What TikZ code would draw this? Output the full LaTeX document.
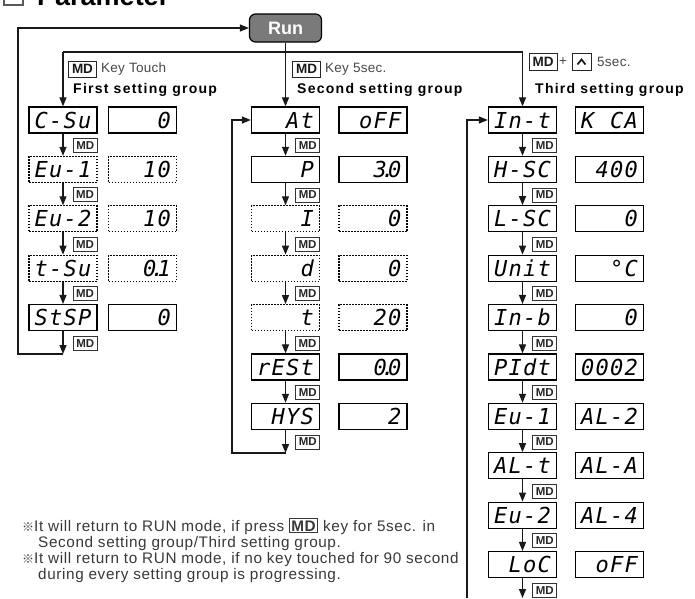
\documentclass[tikz,border=0pt]{standalone}
\usepackage{fontspec}
\setmainfont{Liberation Sans}
\newfontfamily\segf{DejaVu Sans Mono}
\newfontfamily\cjkf{Noto Sans CJK KR}
\usetikzlibrary{arrows.meta}
\newcommand\sg[4]{\makebox[14.5pt]{#1}\makebox[14.5pt]{#2}\makebox[14.5pt]{#3}\makebox[14.5pt]{#4}}
\newcommand\dtt{\makebox[0pt]{.}}
\tikzset{
  disp/.style={draw=black, line width=1.3pt, fill=white, minimum width=68pt, minimum height=26pt,
    inner sep=0pt, text height=16pt, text depth=0pt, font=\segf\itshape\fontsize{22}{22}\selectfont},
  dotd/.style={disp, line width=1.1pt, dash pattern=on 1.6pt off 1.4pt},
  mdk/.style={draw=black!80, line width=0.9pt, fill=white, minimum width=24pt, minimum height=14pt,
    inner sep=0pt, font=\bfseries\fontsize{11.5}{11.5}\selectfont, text=black!85},
  mdh/.style={draw=black!85, line width=1pt, minimum width=28pt, minimum height=16pt,
    inner sep=0pt, font=\bfseries\fontsize{13.5}{13.5}\selectfont, text=black!90},
  arr/.style={line width=1.2pt, draw=black!90, -{Triangle[length=9pt,width=7pt]}},
  ln/.style={line width=1.2pt, draw=black!90},
  runbox/.style={draw=black, line width=1.2pt, rounded corners=6pt, fill=black!52, minimum width=72pt,
    minimum height=28pt, inner sep=0pt, text=white, font=\bfseries\fontsize{18}{18}\selectfont},
  grp/.style={inner sep=0pt, anchor=west, font=\bfseries\fontsize{14}{14}\selectfont\addfontfeature{LetterSpace=9}},
  keyt/.style={inner sep=0pt, anchor=west, text=black!72, font=\fontsize{13.5}{13.5}\selectfont\addfontfeature{LetterSpace=2}},
  note/.style={inner sep=0pt, anchor=base west, text=black!78, font=\fontsize{15.3}{15.3}\selectfont\addfontfeature{LetterSpace=4}},
}
\begin{document}
\begin{tikzpicture}[x=1pt,y=-1pt]
\useasboundingbox (0,0) rectangle (695,598);
% title
\draw[line width=1.5pt, black!65] (4,5) rectangle (23,-14);
\node[inner sep=0pt, anchor=base west, font=\bfseries\fontsize{27}{27}\selectfont] (ttl) at (37,5) {Parameter};
% run
\node[runbox] (run) at (285.5,28) {Run};
% group 1
\node[disp] (a1) at (63,120) {\sg{C}{-}{S}{u}};
\node[dotd] (a2) at (63,169.4) {\sg{E}{u}{-}{1}};
\node[dotd] (a3) at (63,218.8) {\sg{E}{u}{-}{2}};
\node[dotd] (a4) at (63,268.2) {\sg{t}{-}{S}{u}};
\node[disp] (a5) at (63,317.6) {\sg{S}{t}{S}{P}};
\node[disp] (av1) at (142.5,120) {\sg{}{}{}{0}};
\node[dotd] (av2) at (142.5,169.4) {\sg{}{}{1}{0}};
\node[dotd] (av3) at (142.5,218.8) {\sg{}{}{1}{0}};
\node[dotd] (av4) at (142.5,268.2) {\sg{}{}{0}{\dtt1}};
\node[disp] (av5) at (142.5,317.6) {\sg{}{}{}{0}};
% group 2
\node[disp] (b1) at (285.5,120) {\sg{}{}{A}{t}};
\node[disp] (b2) at (285.5,169.4) {\sg{}{}{}{P}};
\node[dotd] (b3) at (285.5,218.8) {\sg{}{}{}{I}};
\node[dotd] (b4) at (285.5,268.2) {\sg{}{}{}{d}};
\node[dotd] (b5) at (285.5,317.6) {\sg{}{}{}{t}};
\node[disp] (b6) at (285.5,367) {\sg{r}{E}{S}{t}};
\node[disp] (b7) at (285.5,416.4) {\sg{}{H}{Y}{S}};
\node[disp] (bv1) at (373,120) {\sg{}{o}{F}{F}};
\node[disp] (bv2) at (373,169.4) {\sg{}{}{3}{\dtt0}};
\node[dotd] (bv3) at (373,218.8) {\sg{}{}{}{0}};
\node[dotd] (bv4) at (373,268.2) {\sg{}{}{}{0}};
\node[dotd] (bv5) at (373,317.6) {\sg{}{}{2}{0}};
\node[disp] (bv6) at (373,367) {\sg{}{}{0}{\dtt0}};
\node[disp] (bv7) at (373,416.4) {\sg{}{}{}{2}};
% group 3
\node[disp] (d1) at (522.5,120) {\sg{I}{n}{-}{t}};
\node[disp] (d2) at (522.5,169.4) {\sg{H}{-}{S}{C}};
\node[disp] (d3) at (522.5,218.8) {\sg{L}{-}{S}{C}};
\node[disp] (d4) at (522.5,268.2) {\sg{U}{n}{i}{t}};
\node[disp] (d5) at (522.5,317.6) {\sg{I}{n}{-}{b}};
\node[disp] (d6) at (522.5,367) {\sg{P}{I}{d}{t}};
\node[disp] (d7) at (522.5,416.4) {\sg{E}{u}{-}{1}};
\node[disp] (d8) at (522.5,465.8) {\sg{A}{L}{-}{t}};
\node[disp] (d9) at (522.5,515.2) {\sg{E}{u}{-}{2}};
\node[disp] (d10) at (522.5,564.6) {\sg{}{L}{o}{C}};
\node[disp] (dv1) at (609.5,120) {\sg{K}{}{C}{A}};
\node[disp] (dv2) at (609.5,169.4) {\sg{}{4}{0}{0}};
\node[disp] (dv3) at (609.5,218.8) {\sg{}{}{}{0}};
\node[disp] (dv4) at (609.5,268.2) {\sg{}{}{°}{C}};
\node[disp] (dv5) at (609.5,317.6) {\sg{}{}{}{0}};
\node[disp] (dv6) at (609.5,367) {\sg{0}{0}{0}{2}};
\node[disp] (dv7) at (609.5,416.4) {\sg{A}{L}{-}{2}};
\node[disp] (dv8) at (609.5,465.8) {\sg{A}{L}{-}{A}};
\node[disp] (dv9) at (609.5,515.2) {\sg{A}{L}{-}{4}};
\node[disp] (dv10) at (609.5,564.6) {\sg{}{o}{F}{F}};
% arrows and MD labels
\foreach \i [count=\j from 2] in {1,...,4} {\draw[arr] (a\i) -- (a\j);}
\foreach \i [count=\j from 2] in {1,...,6} {\draw[arr] (b\i) -- (b\j);}
\foreach \i [count=\j from 2] in {1,...,9} {\draw[arr] (d\i) -- (d\j);}
\foreach \i in {1,...,5} {\node[mdk, anchor=north east] (ma\i) at ([yshift=-4.5pt]a\i.south east) {MD};}
\foreach \i in {1,...,7} {\node[mdk, anchor=north east] (mb\i) at ([yshift=-4.5pt]b\i.south east) {MD};}
\foreach \i in {1,...,10} {\node[mdk, anchor=north east] (md\i) at ([yshift=-4.5pt]d\i.south east) {MD};}
% top distribution
\coordinate (h1) at (63,52);
\coordinate (h2) at (522.5,52);
\draw[ln] (h1) -- (h2);
\draw[arr] (h1) -- (a1);
\draw[arr] (h2) -- (d1);
\draw[arr] (run) -- (b1);
% loops
\coordinate (c1) at (63,354);
\coordinate (c1b) at (18,354);
\draw[arr] (a5) -- (c1);
\draw[arr] (c1) -- (c1b) |- (run);
\coordinate (c2) at (285.5,453);
\coordinate (c2b) at (232,453);
\draw[arr] (b7) -- (c2);
\draw[arr] (c2) -- (c2b) |- (b1);
\coordinate (c3) at (522.5,598);
\coordinate (c3b) at (467,598);
\draw[arr] (d10) -- (c3);
\draw[arr] (c3b) |- (d1);
% headers
\node[mdh] (k1) at (82.5,69) {MD};
\node[keyt] (t1) at ([xshift=4pt]k1.east) {Key Touch};
\node[grp] (g1) at (73,90) {First setting group};
\node[mdh] (k2) at (306.5,69) {MD};
\node[keyt] (t2) at ([xshift=4pt]k2.east) {Key 5sec.};
\node[grp] (g2) at (297,90) {Second setting group};
\node[mdh, minimum height=17pt] (k3) at (543,62) {MD};
\node[keyt] (pl) at (559,62) {+};
\node[draw=black!85, line width=1pt, minimum width=19pt, minimum height=17pt, inner sep=0pt] (up) at (581.5,62) {};
\draw[line width=1.7pt, black!90] ([xshift=-4pt,yshift=-2.5pt]up.center) -- ([yshift=2.5pt]up.center) -- ([xshift=4pt,yshift=-2.5pt]up.center);
\node[keyt] (t3) at (597,62) {5sec.};
\node[grp] (g3) at (535,90) {Third setting group};
% notes
\setlength{\fboxsep}{1.2pt}\setlength{\fboxrule}{0.9pt}
\node[note] (n1) at (22,531) {{\cjkf\fontsize{12}{12}\selectfont ※}It will return to RUN mode, if press \fbox{\textbf{MD}} key for 5sec. in};
\node[note] (n2) at (38,547) {Second setting group/Third setting group.};
\node[note] (n3) at (22,563) {{\cjkf\fontsize{12}{12}\selectfont ※}It will return to RUN mode, if no key touched for 90 second};
\node[note] (n4) at (38,579) {during every setting group is progressing.};
\end{tikzpicture}
\end{document}
